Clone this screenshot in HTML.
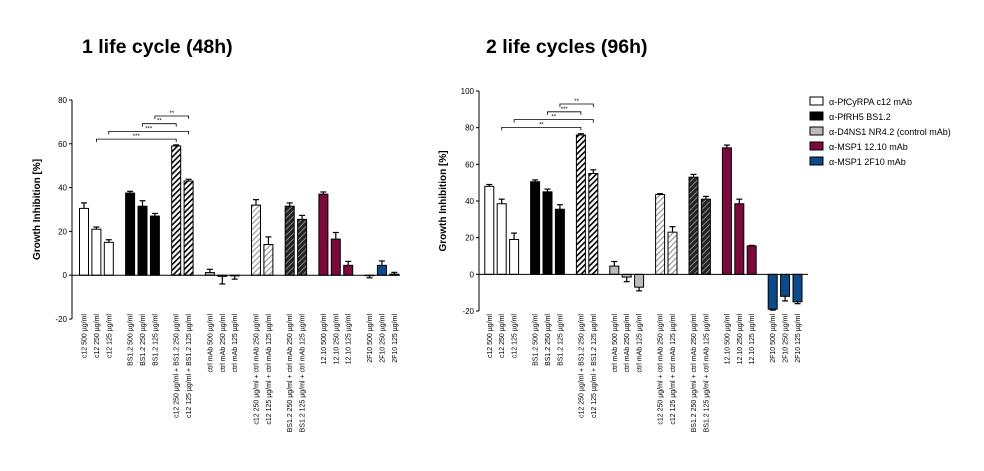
<!DOCTYPE html>
<html><head><meta charset="utf-8"><style>
body{margin:0;background:#fff;}
svg{display:block;font-family:"Liberation Sans",Arial,sans-serif;}
</style></head><body>
<svg id="c" width="984" height="471" viewBox="0 0 984 471">
<defs>
<pattern id="hBlack" patternUnits="userSpaceOnUse" width="4" height="4" patternTransform="rotate(45)"><rect width="4" height="4" fill="#fff"/><rect width="1.6" height="4" fill="#000"/></pattern>
<pattern id="hGrey" patternUnits="userSpaceOnUse" width="4" height="4" patternTransform="rotate(45)"><rect width="4" height="4" fill="#fff"/><rect width="1.2" height="4" fill="#999"/></pattern>
<pattern id="hDark" patternUnits="userSpaceOnUse" width="4" height="4" patternTransform="rotate(45)"><rect width="4" height="4" fill="#222"/><rect width="1" height="4" fill="#888"/></pattern>
</defs>
<text x="82" y="53" font-size="19.5" font-weight="bold">1 life cycle (48h)</text>
<text x="486" y="53" font-size="19.5" font-weight="bold">2 life cycles (96h)</text>
<g id="legend"></g>
</svg>
<script>
const labels = ["c12 500 µg/ml","c12 250 µg/ml","c12 125 µg/ml","BS1.2 500 µg/ml","BS1.2 250 µg/ml","BS1.2 125 µg/ml","c12 250 µg/ml + BS1.2 250 µg/ml","c12 125 µg/ml + BS1.2 125 µg/ml","ctrl mAb 500 µg/ml","ctrl mAb 250 µg/ml","ctrl mAb 125 µg/ml","c12 250 µg/ml + ctrl mAb 250 µg/ml","c12 125 µg/ml + ctrl mAb 125 µg/ml","BS1.2 250 µg/ml + ctrl mAb 250 µg/ml","BS1.2 125 µg/ml + ctrl mAb 125 µg/ml","12.10 500 µg/ml","12.10 250 µg/ml","12.10 125 µg/ml","2F10 500 µg/ml","2F10 250 µg/ml","2F10 125 µg/ml"];
const groups = [0,0,0,1,1,1,2,2,3,3,3,4,4,5,5,6,6,6,7,7,7];
const fills = ["#fff","#000","url(#hBlack)","#bbb","url(#hGrey)","url(#hDark)","#7b0a3c","#0d4a8a"];
const values48 = [30.5,21,15,37.5,31.5,27,59,43,1.2,-0.5,-0.3,32,14,31.5,25.5,37,16.5,4.5,-0.2,4.5,0.5];
const errors48 = [2.5,1,1.2,0.8,2.5,1.2,0.5,0.8,1.5,3.5,1.5,2.5,3.5,1.5,1.8,1,3,1.8,1,2,0.8];
const values96 = [48,38.5,19,50.5,45,35.5,76,55,4.5,-1.5,-7,43.5,23,53,41,69,38.5,15.5,-19,-12,-15];
const errors96 = [1,2.5,3.5,1,1.5,2.5,0.7,2,2.5,2.5,2,0.5,3,1.5,1.5,1.5,2.5,0.3,0.5,2.5,1];
const ticks48 = [-20,0,20,40,60,80];
const ticks96 = [-20,0,20,40,60,80,100];
const sig48 = [[5,7,"**"],[4,6,"**"],[2,7,"***"],[1,6,"***"]];
const sig96 = [[5,7,"**"],[4,6,"***"],[2,7,"**"],[1,6,"**"]];
const legendLabels = ["α-PfCyRPA c12 mAb","α-PfRH5 BS1.2","α-D4NS1 NR4.2 (control mAb)","α-MSP1 12.10 mAb","α-MSP1 2F10 mAb"];
const legendFills = ["#fff","#000","#bbb","#7b0a3c","#0d4a8a"];

const NS="http://www.w3.org/2000/svg";
const svg=document.getElementById('c');
function mk(t,a,p){const e=document.createElementNS(NS,t);for(const k in a)e.setAttribute(k,a[k]);(p||svg).appendChild(e);return e;}

function chart(cfg,vals,errs,ticks,sigs,key){
  const g=mk('g',{});
  
  
  const y=v=>cfg.y0-(v-cfg.min)*(cfg.y0-cfg.y1)/(cfg.max-cfg.min);
  const xs=[];let x=cfg.x0;
  for(let i=0;i<vals.length;i++){ if(i>0) x+= groups[i]!==groups[i-1]?cfg.gg:cfg.sp; xs.push(x);}
  const ax=mk('line',{x1:cfg.ax,x2:cfg.ax,y1:y(cfg.min),y2:y(cfg.max),stroke:'#000','stroke-width':1},g);
  
  ticks.forEach(t=>{
    mk('line',{x1:cfg.ax-3,x2:cfg.ax,y1:y(t),y2:y(t),stroke:'#000'},g);
    const tl=mk('text',{x:cfg.ax-5,y:y(t)+3,'font-size':8,'text-anchor':'end'},g);tl.textContent=t;
    
  });
  const yt=mk('text',{transform:`translate(${cfg.ylx},${(y(cfg.min)+y(cfg.max))/2}) rotate(-90)`,'font-size':10,'font-weight':'bold','text-anchor':'middle'},g);
  yt.textContent='Growth Inhibition [%]';
  
  const bw=9;
  vals.forEach((v,i)=>{
    const cx=xs[i],top=y(Math.max(v,0)),h=Math.abs(y(v)-y(0));
    const r=mk('rect',{x:cx-bw/2,y:top,width:bw,height:Math.max(h,0.5),fill:fills[groups[i]],stroke:'#000','stroke-width':1},g);
    
    const e=v>=0?v+errs[i]:v-errs[i];
    mk('line',{x1:cx,x2:cx,y1:y(v),y2:y(e),stroke:'#000','stroke-width':1.2},g);
    mk('line',{x1:cx-3,x2:cx+3,y1:y(e),y2:y(e),stroke:'#000','stroke-width':1.2},g);
    const lb=mk('text',{transform:`translate(${cx+2.5},${cfg.lt}) rotate(-90)`,'font-size':7,'text-anchor':'end'},g);
    lb.textContent=labels[i];
    
  });
  mk('line',{x1:cfg.ax,x2:cfg.xe,y1:y(0),y2:y(0),stroke:'#000'},g);
  sigs.forEach((s,k)=>{
    const by=cfg.sy+k*cfg.sd,a=xs[s[0]],b=xs[s[1]];
    const p=mk('path',{d:`M${a},${by+3}V${by}H${b}V${by+3}`,fill:'none',stroke:'#000','stroke-width':0.8},g);
    
    const st=mk('text',{x:(a+b)/2,y:by-1,'font-size':6,'text-anchor':'middle'},g);st.textContent=s[2];
  });
}
chart({x0:84,sp:12.4,gg:21.3,ax:72,xe:400,y0:319,y1:100,min:-20,max:80,ylx:40,lt:314,sy:116,sd:7.7},values48,errors48,ticks48,sig48,'48h');
chart({x0:489.3,sp:12.4,gg:21,ax:479,xe:808,y0:311,y1:91,min:-20,max:100,ylx:446,lt:314,sy:104,sd:7.8},values96,errors96,ticks96,sig96,'96h');
const lg=document.getElementById('legend');
legendLabels.forEach((t,i)=>{
  const yy=97+i*15;
  const r=mk('rect',{x:810,y:yy,width:13,height:8,fill:legendFills[i],stroke:'#000'},lg);
  
  const tx=mk('text',{x:829,y:yy+8,'font-size':9},lg);tx.textContent=t;
  
});
</script>
</body></html>
